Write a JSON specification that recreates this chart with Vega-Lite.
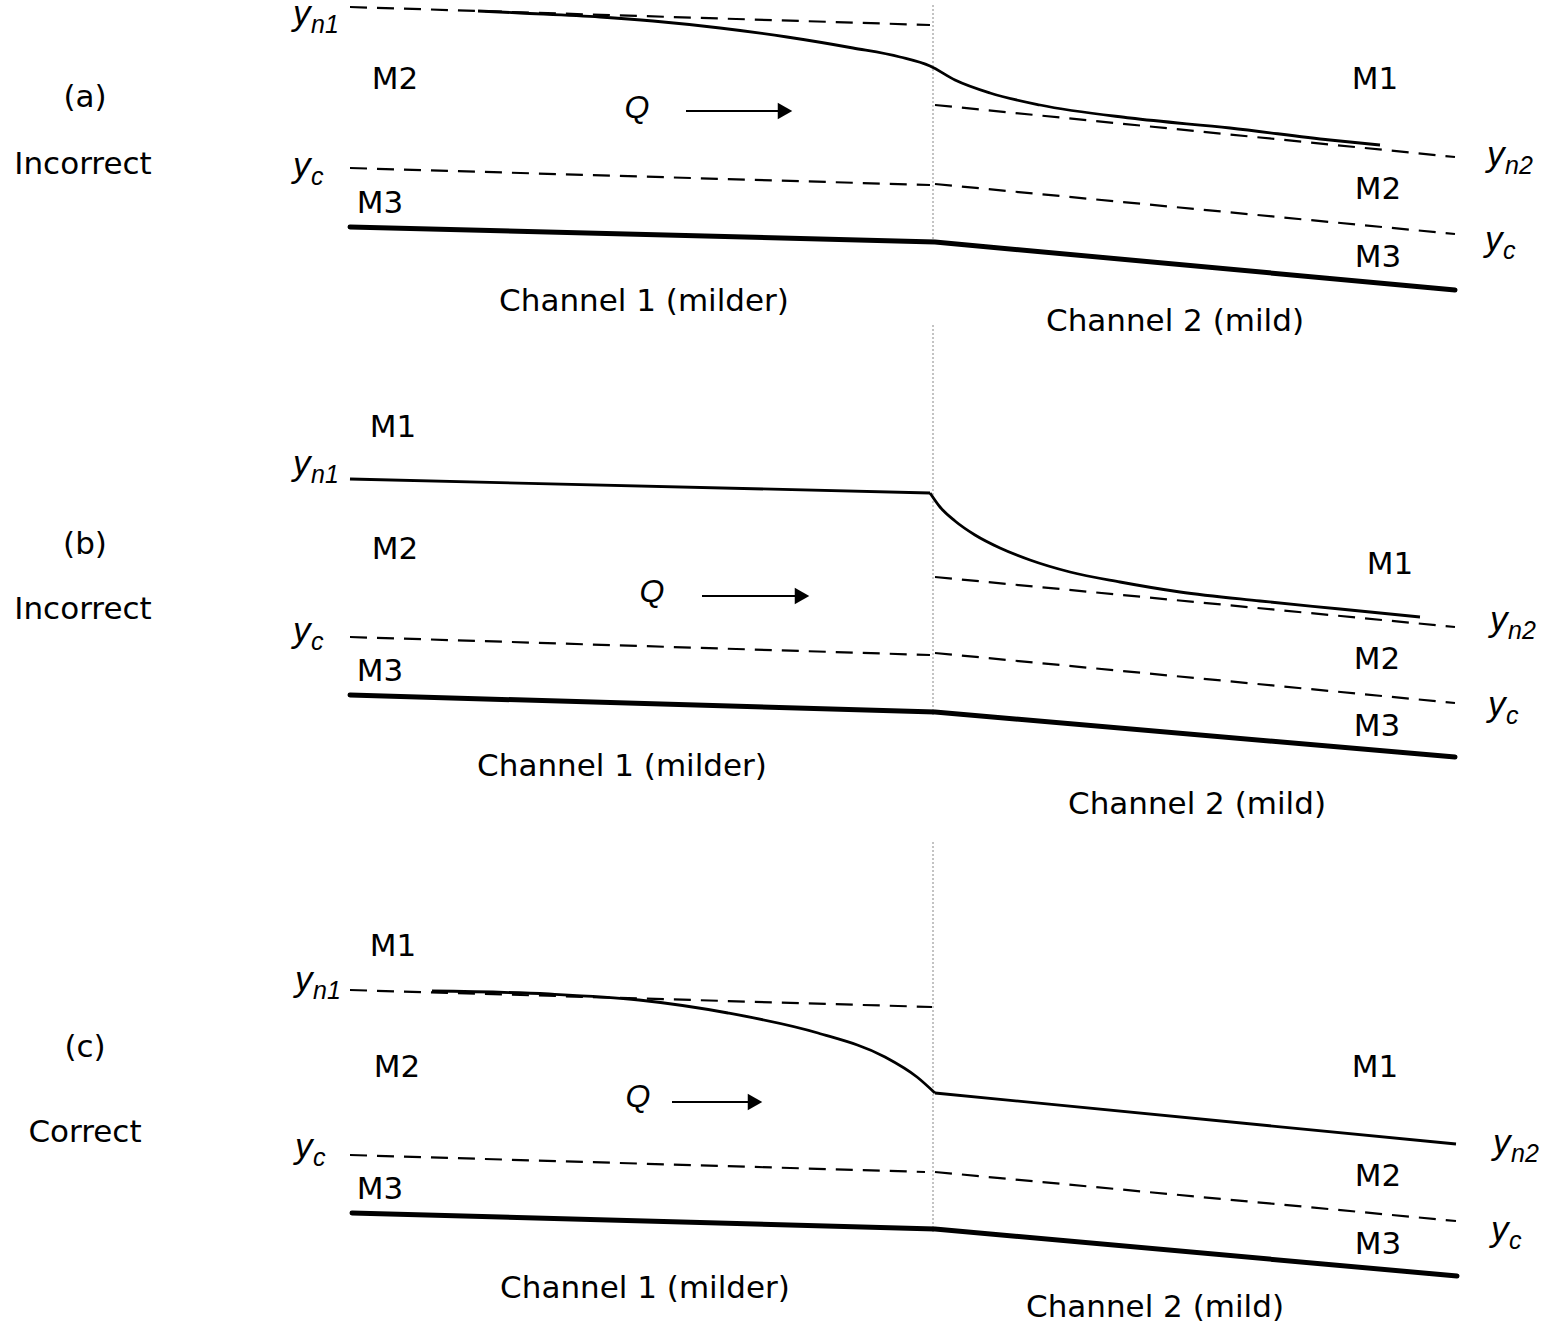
{
  "$schema": "https://vega.github.io/schema/vega-lite/v6.json",
  "width": 1547,
  "height": 1332,
  "padding": 0,
  "autosize": "none",
  "background": "white",
  "config": {"view": {"stroke": null}},
  "datasets": {
    "beds": [
      {"id": "a", "x": 350, "y": 227}, {"id": "a", "x": 935, "y": 242}, {"id": "a", "x": 1455, "y": 290},
      {"id": "b", "x": 350, "y": 695}, {"id": "b", "x": 935, "y": 712}, {"id": "b", "x": 1455, "y": 757},
      {"id": "c", "x": 352, "y": 1213}, {"id": "c", "x": 935, "y": 1229}, {"id": "c", "x": 1457, "y": 1276}
    ],
    "dashed": [
      {"id": "a_yn1", "x": 350, "y": 7}, {"id": "a_yn1", "x": 930, "y": 25},
      {"id": "a_yn2", "x": 935, "y": 105}, {"id": "a_yn2", "x": 1455, "y": 157},
      {"id": "a_yc1", "x": 350, "y": 168}, {"id": "a_yc1", "x": 930, "y": 185},
      {"id": "a_yc2", "x": 935, "y": 184}, {"id": "a_yc2", "x": 1455, "y": 234},
      {"id": "b_yn2", "x": 935, "y": 577}, {"id": "b_yn2", "x": 1455, "y": 627},
      {"id": "b_yc1", "x": 350, "y": 637}, {"id": "b_yc1", "x": 930, "y": 655},
      {"id": "b_yc2", "x": 935, "y": 653}, {"id": "b_yc2", "x": 1455, "y": 703},
      {"id": "c_yn1", "x": 350, "y": 990}, {"id": "c_yn1", "x": 932, "y": 1007},
      {"id": "c_yc1", "x": 350, "y": 1155}, {"id": "c_yc1", "x": 925, "y": 1172},
      {"id": "c_yc2", "x": 935, "y": 1172}, {"id": "c_yc2", "x": 1456, "y": 1221}
    ],
    "surface": [
      {"id": "a_s", "x": 478, "y": 11}, {"id": "a_s", "x": 520, "y": 13}, {"id": "a_s", "x": 600, "y": 17},
      {"id": "a_s", "x": 653, "y": 21}, {"id": "a_s", "x": 720, "y": 28}, {"id": "a_s", "x": 787, "y": 37},
      {"id": "a_s", "x": 853, "y": 48}, {"id": "a_s", "x": 900, "y": 57}, {"id": "a_s", "x": 930, "y": 66},
      {"id": "a_s", "x": 955, "y": 80}, {"id": "a_s", "x": 990, "y": 93}, {"id": "a_s", "x": 1040, "y": 105},
      {"id": "a_s", "x": 1130, "y": 118}, {"id": "a_s", "x": 1230, "y": 128}, {"id": "a_s", "x": 1330, "y": 140},
      {"id": "a_s", "x": 1380, "y": 145},
      {"id": "b_s1", "x": 350, "y": 479}, {"id": "b_s1", "x": 930, "y": 493},
      {"id": "b_s2", "x": 930, "y": 493}, {"id": "b_s2", "x": 940, "y": 507}, {"id": "b_s2", "x": 955, "y": 521},
      {"id": "b_s2", "x": 975, "y": 535}, {"id": "b_s2", "x": 1000, "y": 548}, {"id": "b_s2", "x": 1030, "y": 560},
      {"id": "b_s2", "x": 1070, "y": 572}, {"id": "b_s2", "x": 1120, "y": 582}, {"id": "b_s2", "x": 1180, "y": 592},
      {"id": "b_s2", "x": 1260, "y": 601}, {"id": "b_s2", "x": 1340, "y": 609}, {"id": "b_s2", "x": 1420, "y": 617},
      {"id": "c_s1", "x": 432, "y": 991}, {"id": "c_s1", "x": 549, "y": 994}, {"id": "c_s1", "x": 639, "y": 1000},
      {"id": "c_s1", "x": 728, "y": 1013}, {"id": "c_s1", "x": 818, "y": 1033}, {"id": "c_s1", "x": 885, "y": 1057},
      {"id": "c_s1", "x": 917, "y": 1077}, {"id": "c_s1", "x": 935, "y": 1093},
      {"id": "c_s2", "x": 935, "y": 1093}, {"id": "c_s2", "x": 1456, "y": 1144}
    ],
    "dividers": [
      {"x": 933, "y": 5, "y2": 245},
      {"x": 933, "y": 325, "y2": 715},
      {"x": 933, "y": 842, "y2": 1232}
    ],
    "arrows": [
      {"x": 686, "x2": 782, "y": 111, "tip": 785},
      {"x": 702, "x2": 799, "y": 596, "tip": 802},
      {"x": 672, "x2": 752, "y": 1102, "tip": 755}
    ],
    "labels": [
      {"text": "(a)", "x": 85, "y": 98}, {"text": "Incorrect", "x": 83, "y": 165},
      {"text": "M2", "x": 395, "y": 80}, {"text": "M3", "x": 380, "y": 204},
      {"text": "Channel 1 (milder)", "x": 644, "y": 302}, {"text": "Channel 2 (mild)", "x": 1175, "y": 322},
      {"text": "M1", "x": 1375, "y": 80}, {"text": "M2", "x": 1378, "y": 190}, {"text": "M3", "x": 1378, "y": 258},
      {"text": "(b)", "x": 85, "y": 545}, {"text": "Incorrect", "x": 83, "y": 610},
      {"text": "M1", "x": 393, "y": 428}, {"text": "M2", "x": 395, "y": 550}, {"text": "M3", "x": 380, "y": 672},
      {"text": "Channel 1 (milder)", "x": 622, "y": 767}, {"text": "Channel 2 (mild)", "x": 1197, "y": 805},
      {"text": "M1", "x": 1390, "y": 565}, {"text": "M2", "x": 1377, "y": 660}, {"text": "M3", "x": 1377, "y": 727},
      {"text": "(c)", "x": 85, "y": 1048}, {"text": "Correct", "x": 85, "y": 1133},
      {"text": "M1", "x": 393, "y": 947}, {"text": "M2", "x": 397, "y": 1068}, {"text": "M3", "x": 380, "y": 1190},
      {"text": "Channel 1 (milder)", "x": 645, "y": 1289}, {"text": "Channel 2 (mild)", "x": 1155, "y": 1308},
      {"text": "M1", "x": 1375, "y": 1068}, {"text": "M2", "x": 1378, "y": 1177}, {"text": "M3", "x": 1378, "y": 1245}
    ],
    "qlabels": [
      {"x": 637, "y": 108}, {"x": 652, "y": 592}, {"x": 638, "y": 1097}
    ],
    "depths": [
      {"x": 293, "y": 25, "sub": "n1"}, {"x": 293, "y": 177, "sub": "c"},
      {"x": 1487, "y": 166, "sub": "n2"}, {"x": 1485, "y": 251, "sub": "c"},
      {"x": 293, "y": 475, "sub": "n1"}, {"x": 293, "y": 642, "sub": "c"},
      {"x": 1490, "y": 631, "sub": "n2"}, {"x": 1488, "y": 716, "sub": "c"},
      {"x": 295, "y": 991, "sub": "n1"}, {"x": 295, "y": 1158, "sub": "c"},
      {"x": 1493, "y": 1154, "sub": "n2"}, {"x": 1491, "y": 1241, "sub": "c"}
    ]
  },
  "layer": [
    {
      "data": {"name": "dividers"},
      "mark": {"type": "rule", "color": "#888888", "strokeWidth": 1, "strokeDash": [2, 2]},
      "encoding": {
        "x": {"field": "x", "type": "quantitative", "scale": {"domain": [0, 1547], "nice": false, "zero": false}, "axis": null},
        "y": {"field": "y", "type": "quantitative", "scale": {"domain": [0, 1332], "nice": false, "zero": false, "reverse": true}, "axis": null},
        "y2": {"field": "y2"}
      }
    },
    {
      "data": {"name": "dashed"},
      "mark": {"type": "line", "color": "black", "strokeWidth": 2.2, "strokeDash": [17, 10]},
      "encoding": {
        "x": {"field": "x", "type": "quantitative", "scale": {"domain": [0, 1547], "nice": false, "zero": false}, "axis": null},
        "y": {"field": "y", "type": "quantitative", "scale": {"domain": [0, 1332], "nice": false, "zero": false, "reverse": true}, "axis": null},
        "detail": {"field": "id"}
      }
    },
    {
      "data": {"name": "beds"},
      "mark": {"type": "line", "color": "black", "strokeWidth": 5, "strokeCap": "round"},
      "encoding": {
        "x": {"field": "x", "type": "quantitative", "scale": {"domain": [0, 1547], "nice": false, "zero": false}, "axis": null},
        "y": {"field": "y", "type": "quantitative", "scale": {"domain": [0, 1332], "nice": false, "zero": false, "reverse": true}, "axis": null},
        "detail": {"field": "id"}
      }
    },
    {
      "data": {"name": "surface"},
      "mark": {"type": "line", "color": "black", "strokeWidth": 2.8, "interpolate": "monotone"},
      "encoding": {
        "x": {"field": "x", "type": "quantitative", "scale": {"domain": [0, 1547], "nice": false, "zero": false}, "axis": null},
        "y": {"field": "y", "type": "quantitative", "scale": {"domain": [0, 1332], "nice": false, "zero": false, "reverse": true}, "axis": null},
        "detail": {"field": "id"}
      }
    },
    {
      "data": {"name": "arrows"},
      "mark": {"type": "rule", "color": "black", "strokeWidth": 2},
      "encoding": {
        "x": {"field": "x", "type": "quantitative", "scale": {"domain": [0, 1547], "nice": false, "zero": false}, "axis": null},
        "x2": {"field": "x2"},
        "y": {"field": "y", "type": "quantitative", "scale": {"domain": [0, 1332], "nice": false, "zero": false, "reverse": true}, "axis": null}
      }
    },
    {
      "data": {"name": "arrows"},
      "mark": {"type": "point", "shape": "triangle-right", "filled": true, "color": "black", "opacity": 1, "size": 280},
      "encoding": {
        "x": {"field": "tip", "type": "quantitative", "scale": {"domain": [0, 1547], "nice": false, "zero": false}, "axis": null},
        "y": {"field": "y", "type": "quantitative", "scale": {"domain": [0, 1332], "nice": false, "zero": false, "reverse": true}, "axis": null}
      }
    },
    {
      "data": {"name": "labels"},
      "mark": {"type": "text", "font": "DejaVu Sans", "fontSize": 31, "color": "black", "align": "center", "baseline": "middle"},
      "encoding": {
        "x": {"field": "x", "type": "quantitative", "scale": {"domain": [0, 1547], "nice": false, "zero": false}, "axis": null},
        "y": {"field": "y", "type": "quantitative", "scale": {"domain": [0, 1332], "nice": false, "zero": false, "reverse": true}, "axis": null},
        "text": {"field": "text"}
      }
    },
    {
      "data": {"name": "qlabels"},
      "mark": {"type": "text", "font": "Liberation Sans", "fontStyle": "italic", "fontSize": 32, "color": "black", "align": "center", "baseline": "middle", "text": "Q"},
      "encoding": {
        "x": {"field": "x", "type": "quantitative", "scale": {"domain": [0, 1547], "nice": false, "zero": false}, "axis": null},
        "y": {"field": "y", "type": "quantitative", "scale": {"domain": [0, 1332], "nice": false, "zero": false, "reverse": true}, "axis": null}
      }
    },
    {
      "data": {"name": "depths"},
      "mark": {"type": "text", "font": "Liberation Sans", "fontStyle": "italic", "fontSize": 35, "color": "black", "align": "left", "baseline": "alphabetic", "text": "y"},
      "encoding": {
        "x": {"field": "x", "type": "quantitative", "scale": {"domain": [0, 1547], "nice": false, "zero": false}, "axis": null},
        "y": {"field": "y", "type": "quantitative", "scale": {"domain": [0, 1332], "nice": false, "zero": false, "reverse": true}, "axis": null}
      }
    },
    {
      "data": {"name": "depths"},
      "mark": {"type": "text", "font": "Liberation Sans", "fontStyle": "italic", "fontSize": 25, "color": "black", "align": "left", "baseline": "alphabetic", "dx": 18, "dy": 8},
      "encoding": {
        "x": {"field": "x", "type": "quantitative", "scale": {"domain": [0, 1547], "nice": false, "zero": false}, "axis": null},
        "y": {"field": "y", "type": "quantitative", "scale": {"domain": [0, 1332], "nice": false, "zero": false, "reverse": true}, "axis": null},
        "text": {"field": "sub"}
      }
    }
  ]
}
